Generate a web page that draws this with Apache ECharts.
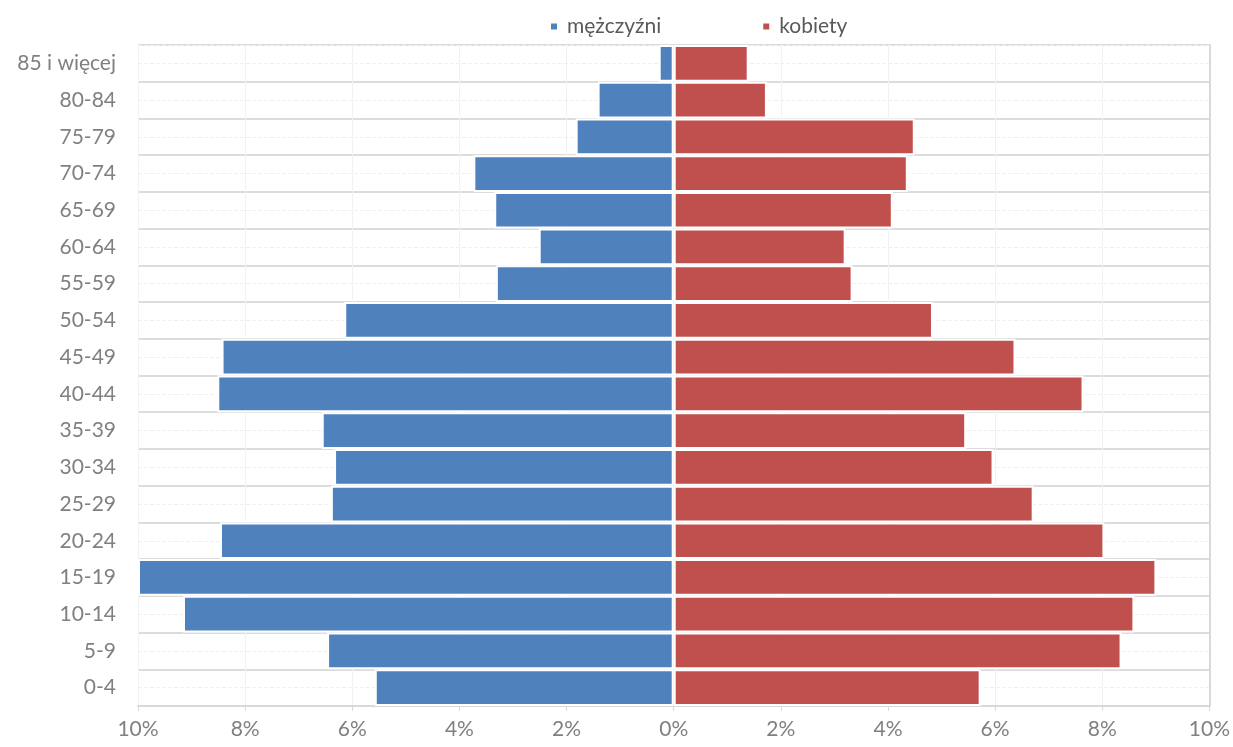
<!DOCTYPE html>
<html>
<head>
<meta charset="utf-8">
<script src="https://cdn.jsdelivr.net/npm/echarts@6/dist/echarts.min.js"></script>
<style>
  html, body { margin: 0; padding: 0; background: #fff; }
  #pyramid { width: 1233px; height: 747px; }
</style>
</head>
<body>
<div id="pyramid"></div>
<script>
// age groups, bottom to top
const ageGroups = ['0-4', '5-9', '10-14', '15-19', '20-24', '25-29', '30-34', '35-39', '40-44',
  '45-49', '50-54', '55-59', '60-64', '65-69', '70-74', '75-79', '80-84', '85 i więcej']
// share of population, %
const men = [5.58, 6.47, 9.16, 10.0, 8.47, 6.40, 6.34, 6.57, 8.52, 8.44, 6.15, 3.32, 2.52, 3.35, 3.74, 1.83, 1.42, 0.28]
const women = [5.73, 8.36, 8.60, 9.01, 8.04, 6.72, 5.97, 5.46, 7.65, 6.38, 4.84, 3.34, 3.21, 4.09, 4.37, 4.50, 1.74, 1.40]
const seriesNames = ['mężczyźni', 'kobiety']
const xTicks = [-10, -8, -6, -4, -2, 0, 2, 4, 6, 8, 10]

const font = 'Lato, "Open Sans", sans-serif'
// half-band categories, only used to draw the faint centre lines
const halfBands = ageGroups.flatMap(a => [a + ' a', a + ' b'])

const chart = echarts.init(document.getElementById('pyramid'), null, { renderer: 'canvas' })
chart.setOption({
  animation: false,
  legend: {
    top: 11,
    left: 544,
    itemWidth: 8,
    itemHeight: 8,
    itemGap: 100,
    icon: 'rect',
    data: seriesNames,
    textStyle: { fontFamily: font, fontSize: 21, color: '#595959', padding: [0, 0, 0, 4] }
  },
  grid: { left: 138, right: 23, top: 45, bottom: 41 },
  xAxis: {
    type: 'value',
    min: xTicks[0],
    max: xTicks[xTicks.length - 1],
    interval: 2,
    axisLine: { show: true, lineStyle: { color: '#d9d9d9', width: 2 } },
    axisTick: { show: true, length: 5, lineStyle: { color: '#d9d9d9' } },
    splitLine: { show: true, lineStyle: { color: '#f2f2f2', width: 1 } },
    axisLabel: {
      margin: 13,
      fontFamily: font,
      fontSize: 21,
      color: '#808080',
      formatter: v => Math.abs(v) + '%'
    }
  },
  yAxis: [{
    type: 'category',
    data: ageGroups,
    axisLine: { show: true, lineStyle: { color: '#d9d9d9', width: 2 } },
    axisTick: { show: false },
    splitLine: { show: true, lineStyle: { color: '#dcdcdc', width: 2 } },
    axisLabel: { margin: 22, fontFamily: font, fontSize: 21, color: '#808080' }
  }, {
    type: 'category',
    data: halfBands,
    position: 'right',
    axisLine: { show: true, lineStyle: { color: '#d9d9d9', width: 2 } },
    axisTick: { show: false },
    axisLabel: { show: false },
    splitLine: {
      show: true,
      interval: (i) => i % 2 === 1,
      lineStyle: { color: '#f0f0f0', width: 1, type: 'dashed' }
    }
  }],
  series: [{
    name: seriesNames[0],
    type: 'bar',
    stack: 'pop',
    barCategoryGap: '0%',
    data: men.map(v => -v),
    itemStyle: { color: '#4f81bd', borderColor: '#fff', borderWidth: 2 }
  }, {
    name: seriesNames[1],
    type: 'bar',
    stack: 'pop',
    barCategoryGap: '0%',
    data: women,
    itemStyle: { color: '#c0504d', borderColor: '#fff', borderWidth: 2 }
  }]
})
</script>
</body>
</html>
